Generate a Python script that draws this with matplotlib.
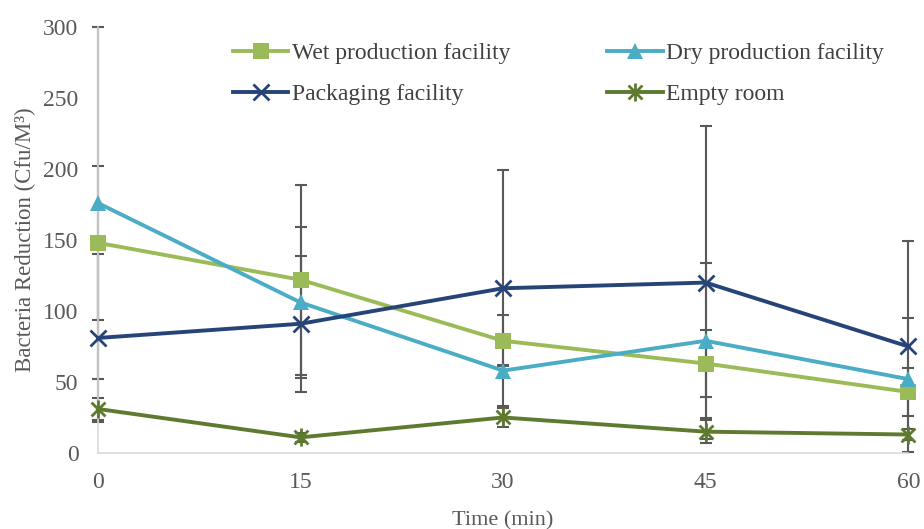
import numpy as np
import matplotlib.pyplot as plt
from matplotlib.path import Path

plt.rcParams['font.family'] = ['Liberation Serif', 'DejaVu Serif']

# 数据
time = [0, 15, 30, 45, 60]
wet = [148, 122, 79, 63, 43]
wet_err = [54, 67, 18, 23.5, 17]
dry = [176, 106, 58, 79, 52]
dry_err = [124, 53, 4, 54.5, 43]
pack = [81, 91, 116, 120, 75]
pack_err = [59, 48, 83, 110, 74]
empty = [31, 11, 25, 15, 13]
empty_err = [8, 3, 6.5, 8, 4]

names = ['Wet production facility', 'Dry production facility',
         'Packaging facility', 'Empty room']

# Excel 风格的星形标记 (x 加竖线)
star = Path([(-1, -1), (1, 1), (-1, 1), (1, -1), (0, -1.3), (0, 1.3)],
            [Path.MOVETO, Path.LINETO, Path.MOVETO, Path.LINETO,
             Path.MOVETO, Path.LINETO])

series = [
    (wet, wet_err, '#9BBB59', 's', 11, 0),
    (dry, dry_err, '#4BACC6', '^', 12, 0),
    (pack, pack_err, '#264478', 'x', 11, 2),
    (empty, empty_err, '#5E7A2F', star, 13, 2),
]

fig = plt.figure(figsize=(9.24, 5.29), dpi=100)
ax = fig.add_axes([0.106, 0.1437, 0.877, 0.8053])

handles = []
for (y, e, c, m, ms, mew), name in zip(series, names):
    eb = ax.errorbar(time, y, yerr=e, fmt='none', ecolor='#595959',
                     elinewidth=1.5, capsize=4.5, capthick=1.5, zorder=2)
    for art in eb.lines[1] + eb.lines[2]:
        art.set_clip_on(False)
    h, = ax.plot(time, y, color=c, lw=2.8, marker=m, ms=ms, mew=mew,
                 mec=c, mfc=c, label=name, zorder=3, clip_on=False)
    handles.append(h)

ax.set_xlim(0, 60)
ax.set_ylim(0, 300)
ax.set_xticks(time)
ax.set_yticks(np.arange(0, 301, 50))
ax.tick_params(length=0, labelsize=17, colors='#595959')
ax.tick_params(axis='y', pad=14)
ax.tick_params(axis='x', pad=14)
for s in ['top', 'right']:
    ax.spines[s].set_visible(False)
for s in ['left', 'bottom']:
    ax.spines[s].set_color('#d9d9d9')
    ax.spines[s].set_linewidth(1.2)

ax.set_xlabel('Time (min)', fontsize=16, color='#595959', labelpad=13)
ax.set_ylabel('Bacteria Reduction (Cfu/M³)', fontsize=16.5, color='#595959',
              labelpad=5)

# 图例按行排列
order = [0, 2, 1, 3]
fig.legend([handles[i] for i in order], [names[i] for i in order],
           loc='upper left', bbox_to_anchor=(0.252, 0.92), ncol=2,
           frameon=False, fontsize=17, handlelength=2.35, handletextpad=0.15,
           columnspacing=4.1, labelspacing=0.85, borderpad=0, borderaxespad=0,
           labelcolor='#404040')

fig.savefig('out.png', dpi=100)
